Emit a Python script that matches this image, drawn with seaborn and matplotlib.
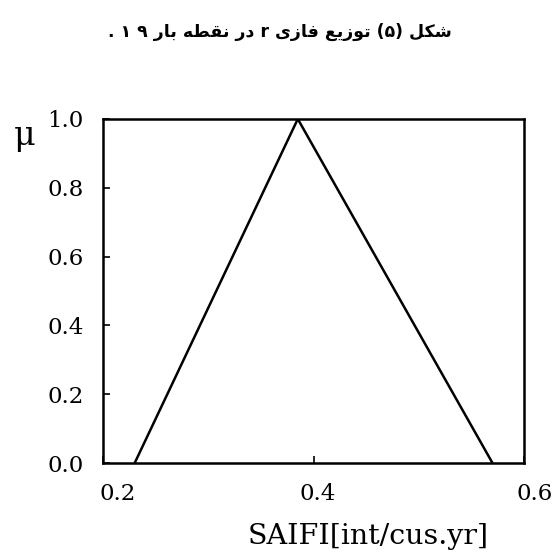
import matplotlib
matplotlib.use("Agg")
import matplotlib.pyplot as plt
import matplotlib.transforms as mtransforms
import seaborn as sns
import pandas as pd

# Triangular fuzzy membership of SAIFI
saifi = [0.23, 0.385, 0.57]
membership = [0.0, 1.0, 0.0]
x_ticks = [0.2, 0.4, 0.6]
y_ticks = [0.0, 0.2, 0.4, 0.6, 0.8, 1.0]

# Persian caption written in shaped (presentation) forms, left-to-right visual order
caption = ("." + " " + "\u06F1 \u06F9" + " "
           + "\uFEAD\uFE8E\uFE91" + " "
           + "\uFEEA\uFEC4\uFED8\uFEE7" + " "
           + "\uFEAD\uFEA9" + " r "
           + "\uFEEF\uFEAF\uFE8E\uFED3" + " "
           + "\uFECA\uFEF3\uFEAF\uFEEE\uFE97" + " (\u06F5) "
           + "\uFEDE\uFEDC\uFEB7")

sns.set_style("ticks")
plt.rcParams["font.family"] = ["DejaVu Serif"]
plt.rcParams["text.color"] = "black"
plt.rcParams["axes.labelcolor"] = "black"

fig = plt.figure(figsize=(5.57, 5.56), dpi=100)
ax = fig.add_axes([0.185, 0.167, 0.756, 0.619])

df = pd.DataFrame({"SAIFI": saifi, "mu": membership})
sns.lineplot(data=df, x="SAIFI", y="mu", ax=ax, color="black",
             linewidth=1.8, sort=False)

ax.set_xlim(0.2, 0.6)
ax.set_ylim(0.0, 1.0)
ax.set_xticks(x_ticks)
ax.set_yticks(y_ticks)
ax.set_xticklabels([f"{v:.1f}" for v in x_ticks])
ax.set_yticklabels([f"{v:.1f}" for v in y_ticks])
ax.tick_params(direction="in", length=5, width=1.2, labelsize=16.5,
               colors="black")
ax.tick_params(axis="y", pad=14)
ax.tick_params(axis="x", pad=14)
for s in ax.spines.values():
    s.set_linewidth(1.8)
    s.set_color("black")

# nudge the x tick labels slightly to the right
for lab, dx in zip(ax.get_xticklabels(), [15, 4, 11]):
    lab.set_transform(lab.get_transform()
                      + mtransforms.ScaledTranslation(dx / 100, 0, fig.dpi_scale_trans))

ax.set_xlabel("SAIFI[int/cus.yr]", fontsize=20.5, labelpad=10, color="black")
ax.xaxis.set_label_coords(0.63, -0.175)
ax.set_ylabel("")

fig.text(0.025, 0.74, "\u03bc", fontsize=24, color="black")
fig.text(0.503, 0.943, caption, fontsize=12.5, fontweight="bold",
         family=["DejaVu Sans"], ha="center", va="center", color="black")

fig.savefig("out.png", dpi=100)
